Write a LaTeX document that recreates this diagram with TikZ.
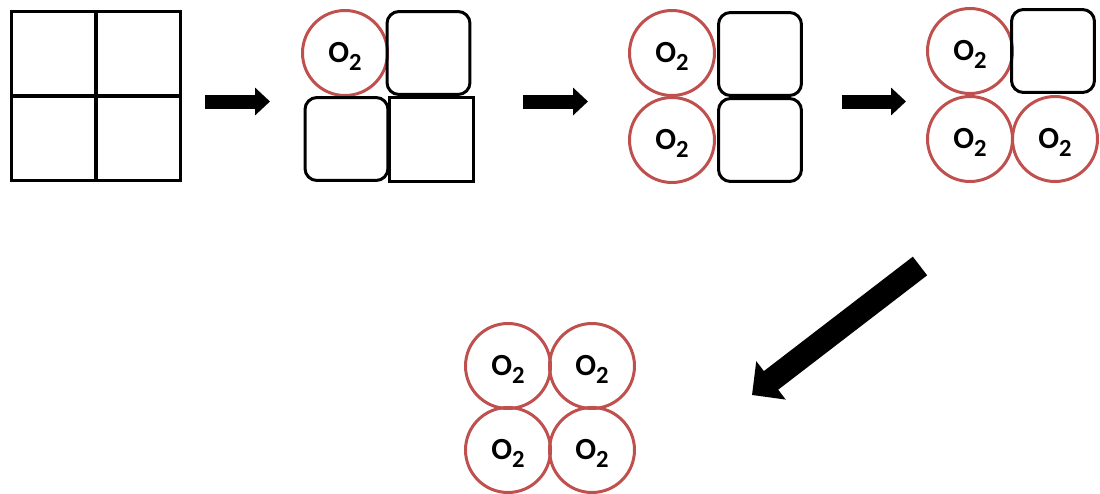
\documentclass[tikz,border=0pt]{standalone}
\usepackage{fontspec}
\setmainfont{Carlito}
\usetikzlibrary{arrows.meta}
\definecolor{oxred}{RGB}{192,80,77}
\def\oxtext{O\raisebox{-4pt}[0pt][0pt]{\fontsize{14}{14}\selectfont 2}}

\begin{document}
\begin{tikzpicture}[x=0.02cm,y=-0.02cm,
	cell/.style={draw,line width=0.06cm,minimum size=1.66cm,inner sep=0pt},
	soft/.style={cell,rounded corners=0.24cm},
	oxy/.style={draw=oxred,line width=0.06cm,circle,minimum size=1.7cm,inner sep=0pt,font=\fontsize{17.5}{19}\selectfont\bfseries},
	push/.style={line width=0.28cm,-{Triangle[width=0.54cm,length=0.3cm]}},
	bigpush/.style={line width=0.47cm,-{Triangle[width=0.94cm,length=0.48cm]}}]

	\useasboundingbox (0,0) rectangle (1100,494);

	% stage 1
	\node[cell,minimum size=1.69cm] (ga) at (53.75,53.75) {};
	\node[cell,minimum size=1.69cm] (gb) at (138.25,53.75) {};
	\node[cell,minimum size=1.69cm] (gc) at (53.75,138.25) {};
	\node[cell,minimum size=1.69cm] (gd) at (138.25,138.25) {};

	% stage 2
	\node[oxy] (pa) at (345,53) {\oxtext};
	\node[soft] (pb) at (428.5,53) {};
	\node[soft] (pc) at (346.5,139) {};
	\node[cell,minimum size=1.68cm] (pd) at (431.5,139.5) {};

	% stage 3
	\node[oxy] (qa) at (672,53) {\oxtext};
	\node[soft] (qb) at (760,54) {};
	\node[oxy] (qc) at (672,140) {\oxtext};
	\node[soft] (qd) at (760,140) {};

	% stage 4
	\node[oxy] (ra) at (970,51) {\oxtext};
	\node[soft] (rb) at (1053,51) {};
	\node[oxy] (rc) at (970,139) {\oxtext};
	\node[oxy] (rd) at (1055,139) {\oxtext};

	% stage 5
	\node[oxy] (sa) at (508,366) {\oxtext};
	\node[oxy] (sb) at (592,366) {\oxtext};
	\node[oxy] (sc) at (508,450) {\oxtext};
	\node[oxy] (sd) at (592,450) {\oxtext};

	% arrows
	\coordinate (a1s) at (205,101.5);
	\coordinate (a1e) at (270,101.5);
	\coordinate (a2s) at (523,101.5);
	\coordinate (a2e) at (588,101.5);
	\coordinate (a3s) at (842,101.5);
	\coordinate (a3e) at (906,101.5);
	\coordinate (a4s) at (920,266);
	\coordinate (a4e) at (752,395);
	\draw[push] (a1s) -- (a1e);
	\draw[push] (a2s) -- (a2e);
	\draw[push] (a3s) -- (a3e);
	\draw[bigpush] (a4s) -- (a4e);
\end{tikzpicture}
\end{document}
